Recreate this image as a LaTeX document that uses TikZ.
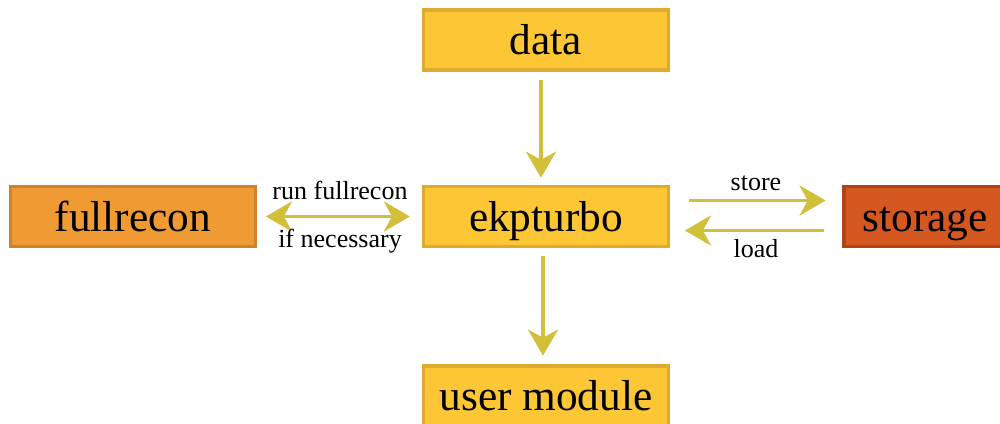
\documentclass[tikz,border=0pt]{standalone}
\usepackage{fontspec}
\setmainfont{Liberation Serif}
\usetikzlibrary{arrows.meta}
\definecolor{goldfill}{RGB}{252,198,52}
\definecolor{goldline}{RGB}{222,170,50}
\definecolor{orafill}{RGB}{240,154,52}
\definecolor{oraline}{RGB}{205,130,45}
\definecolor{redfill}{RGB}{213,88,32}
\definecolor{redline}{RGB}{176,68,25}
\definecolor{arrowc}{RGB}{210,192,58}
\tikzset{
  box/.style={draw=goldline, fill=goldfill, line width=2.2pt, minimum width=6.125cm, minimum height=1.5cm, inner sep=0pt, text height=21pt, text depth=0pt, font=\fontsize{30.8}{32}\selectfont},
  conn/.style={draw=arrowc, line width=2.6pt, -{Stealth[length=0.65cm,width=0.75cm,inset=0.2cm]}},
  lbl/.style={font=\fontsize{18.5}{20}\selectfont, inner sep=0pt},
}
\begin{document}
\begin{tikzpicture}[x=0.025cm,y=-0.025cm]
\useasboundingbox (0,0) rectangle (1000,423);
\clip (0,0) rectangle (1000,423);
\node[box] (data) at (546,40) {data};
\node[box] (ekp) at (546,216.5) {ekpturbo};
\node[box] (user) at (546,396) {user module};
\node[box, draw=oraline, fill=orafill] (full) at (133,216.5) {fullrecon};
\node[box, draw=redline, fill=redfill, minimum width=4.05cm] (stor) at (925,216.5) {storage};
\draw[conn, shorten <=0.2cm, shorten >=0.18cm] ([xshift=-0.125cm]data.south) -- ([xshift=-0.125cm]ekp.north);
\draw[conn, shorten <=0.2cm, shorten >=0.22cm] ([xshift=-0.075cm]ekp.south) -- ([xshift=-0.075cm]user.north);
\draw[conn, {Stealth[length=0.65cm,width=0.75cm,inset=0.2cm]}-{Stealth[length=0.65cm,width=0.75cm,inset=0.2cm]}, shorten <=0.22cm, shorten >=0.3cm] (full.east) -- (ekp.west);
\draw[conn, shorten <=0.47cm, shorten >=0.42cm] ([yshift=0.4cm]ekp.east) -- ([yshift=0.4cm]stor.west);
\draw[conn, shorten <=0.47cm, shorten >=0.37cm] ([yshift=-0.35cm]stor.west) -- ([yshift=-0.35cm]ekp.east);
\node[lbl] (l1) at (340,190) {run fullrecon};
\node[lbl] (l2) at (340,241) {if necessary};
\node[lbl] (l3) at (756,183) {store};
\node[lbl] (l4) at (756,249) {load};
\end{tikzpicture}
\end{document}
